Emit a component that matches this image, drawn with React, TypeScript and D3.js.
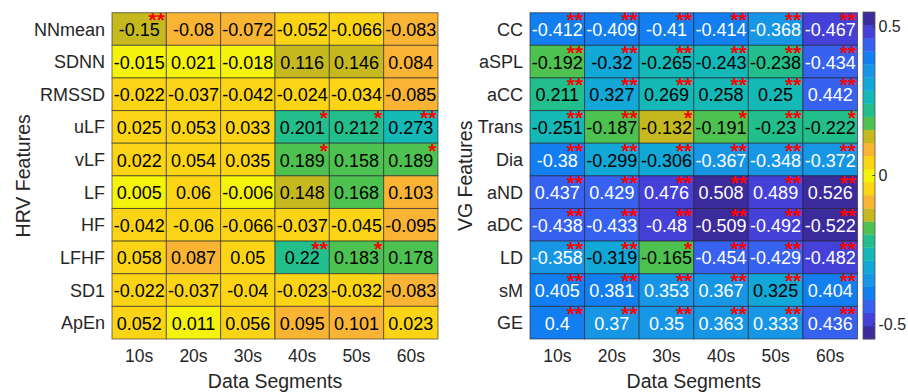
// two correlation heatmaps (HRV / VG features) with a shared colorbar
import React, { useRef, useEffect } from 'react';
import * as d3 from 'd3';

const segments = ['10s', '20s', '30s', '40s', '50s', '60s'];

const hrvFeatures = ['NNmean', 'SDNN', 'RMSSD', 'uLF', 'vLF', 'LF', 'HF', 'LFHF', 'SD1', 'ApEn'];
const hrvValues: number[][] = [
  [-0.15, -0.08, -0.072, -0.052, -0.066, -0.083],
  [-0.015, 0.021, -0.018, 0.116, 0.146, 0.084],
  [-0.022, -0.037, -0.042, -0.024, -0.034, -0.085],
  [0.025, 0.053, 0.033, 0.201, 0.212, 0.273],
  [0.022, 0.054, 0.035, 0.189, 0.158, 0.189],
  [0.005, 0.06, -0.006, 0.148, 0.168, 0.103],
  [-0.042, -0.06, -0.066, -0.037, -0.045, -0.095],
  [0.058, 0.087, 0.05, 0.22, 0.183, 0.178],
  [-0.022, -0.037, -0.04, -0.023, -0.032, -0.083],
  [0.052, 0.011, 0.056, 0.095, 0.101, 0.023],
];
const hrvStars: string[][] = [
  ['**', '', '', '', '', ''],
  ['', '', '', '', '', ''],
  ['', '', '', '', '', ''],
  ['', '', '', '*', '*', '**'],
  ['', '', '', '*', '', '*'],
  ['', '', '', '', '', ''],
  ['', '', '', '', '', ''],
  ['', '', '', '**', '*', ''],
  ['', '', '', '', '', ''],
  ['', '', '', '', '', ''],
];

const vgFeatures = ['CC', 'aSPL', 'aCC', 'Trans', 'Dia', 'aND', 'aDC', 'LD', 'sM', 'GE'];
const vgValues: number[][] = [
  [-0.412, -0.409, -0.41, -0.414, -0.368, -0.467],
  [-0.192, -0.32, -0.265, -0.243, -0.238, -0.434],
  [0.211, 0.327, 0.269, 0.258, 0.25, 0.442],
  [-0.251, -0.187, -0.132, -0.191, -0.23, -0.222],
  [-0.38, -0.299, -0.306, -0.367, -0.348, -0.372],
  [0.437, 0.429, 0.476, 0.508, 0.489, 0.526],
  [-0.438, -0.433, -0.48, -0.509, -0.492, -0.522],
  [-0.358, -0.319, -0.165, -0.454, -0.429, -0.482],
  [0.405, 0.381, 0.353, 0.367, 0.325, 0.404],
  [0.4, 0.37, 0.35, 0.363, 0.333, 0.436],
];
const vgStars: string[][] = [
  ['**', '**', '**', '**', '**', '**'],
  ['**', '**', '**', '**', '**', '**'],
  ['**', '**', '**', '**', '**', '**'],
  ['**', '**', '*', '*', '**', '*'],
  ['**', '**', '**', '**', '**', '**'],
  ['**', '**', '**', '**', '**', '**'],
  ['**', '**', '**', '**', '**', '**'],
  ['**', '**', '*', '**', '**', '**'],
  ['**', '**', '**', '**', '**', '**'],
  ['**', '**', '**', '**', '**', '**'],
];

// colour steps from the centre (0) outwards, mirrored for +/- values
const halfColors = [
  '#f5f20c', '#fbd515', '#f9b434', '#c6b920', '#4dc250', '#22bf8c', '#14b8b6',
  '#11a8d8', '#1896e6', '#127ef0', '#3762f0', '#4541d8', '#3c2b9c',
];
const colorTicks = [-0.5, 0, 0.5];
const cLim = 0.55;

const width = 908;
const height = 392;
const top = 12.7;
const bottom = 339;
const font = '"Liberation Sans", Arial, Helvetica, sans-serif';

const App: React.FC = () => {
  const svgRef = useRef<SVGSVGElement>(null);

  useEffect(() => {
    if (!svgRef.current) return;
    const svg = d3.select(svgRef.current);
    svg.selectAll('*').remove();

    const n = halfColors.length - 1;
    const steps = d3.range(2 * n + 1).map((i) => halfColors[Math.abs(i - n)]);
    const color = d3.scaleQuantize<string>().domain([-cLim, cLim]).range(steps);
    const stepIndex = (v: number) => steps.indexOf(color(v));

    const drawMap = (
      left: number,
      right: number,
      rows: string[],
      values: number[][],
      stars: string[][],
      title: string,
      titleX: number,
    ) => {
      const x = d3.scaleBand().domain(segments).range([left, right]);
      const y = d3.scaleBand().domain(rows).range([top, bottom]);
      const g = svg.append('g');

      const cells = rows.flatMap((r, i) =>
        segments.map((s, j) => ({ r, s, v: values[i][j], star: stars[i][j] })),
      );

      g.selectAll('rect.cell')
        .data(cells)
        .join('rect')
        .attr('class', 'cell')
        .attr('x', (d) => x(d.s)!)
        .attr('y', (d) => y(d.r)!)
        .attr('width', x.bandwidth())
        .attr('height', y.bandwidth())
        .attr('fill', (d) => color(d.v))
        .attr('stroke', 'rgba(30,30,40,0.6)')
        .attr('stroke-width', 1);

      g.selectAll('text.val')
        .data(cells)
        .join('text')
        .attr('class', 'val')
        .attr('x', (d) => x(d.s)! + x.bandwidth() / 2)
        .attr('y', (d) => y(d.r)! + y.bandwidth() / 2 + 7)
        .attr('text-anchor', 'middle')
        .attr('font-family', font)
        .attr('font-size', 18)
        .attr('fill', (d) => (Math.abs(stepIndex(d.v) - n) >= 8 ? '#fff' : '#000'))
        .text((d) => String(d.v));

      g.selectAll('text.star')
        .data(cells.filter((d) => d.star))
        .join('text')
        .attr('class', 'star')
        .attr('x', (d) => x(d.s)! + x.bandwidth() - 1.5)
        .attr('y', (d) => y(d.r)! + 14.5)
        .attr('text-anchor', 'end')
        .attr('font-family', font)
        .attr('font-size', 21)
        .attr('font-weight', 'bold')
        .attr('fill', '#ff0000')
        .text((d) => d.star);

      // row labels
      g.selectAll('text.row')
        .data(rows)
        .join('text')
        .attr('class', 'row')
        .attr('x', left - 7)
        .attr('y', (d) => y(d)! + y.bandwidth() / 2 + 6.5)
        .attr('text-anchor', 'end')
        .attr('font-family', font)
        .attr('font-size', 18)
        .attr('fill', '#262626')
        .text((d) => d);

      // column labels
      g.selectAll('text.col')
        .data(segments)
        .join('text')
        .attr('class', 'col')
        .attr('x', (d) => x(d)! + x.bandwidth() / 2)
        .attr('y', 362)
        .attr('text-anchor', 'middle')
        .attr('font-family', font)
        .attr('font-size', 17.5)
        .attr('fill', '#262626')
        .text((d) => d);

      g.append('text')
        .attr('x', (left + right) / 2)
        .attr('y', 388)
        .attr('text-anchor', 'middle')
        .attr('font-family', font)
        .attr('font-size', 19.5)
        .attr('fill', '#262626')
        .text('Data Segments');

      g.append('text')
        .attr('transform', `translate(${titleX},${(top + bottom) / 2}) rotate(-90)`)
        .attr('text-anchor', 'middle')
        .attr('font-family', font)
        .attr('font-size', 19.5)
        .attr('fill', '#262626')
        .text(title);
    };

    drawMap(112, 438, hrvFeatures, hrvValues, hrvStars, 'HRV Features', 30);
    drawMap(530, 857.5, vgFeatures, vgValues, vgStars, 'VG Features', 472);

    // colorbar
    const cbX = 863;
    const cbW = 12;
    const cy = d3.scaleLinear().domain([-cLim, cLim]).range([339, 12]);
    const stepSize = (2 * cLim) / steps.length;
    const cb = svg.append('g');
    cb.selectAll('rect')
      .data(steps)
      .join('rect')
      .attr('x', cbX)
      .attr('y', (_, i) => cy(-cLim + (i + 1) * stepSize))
      .attr('width', cbW)
      .attr('height', (_, i) => cy(-cLim + i * stepSize) - cy(-cLim + (i + 1) * stepSize) + 0.3)
      .attr('fill', (d) => d);
    cb.append('rect')
      .attr('x', cbX)
      .attr('y', 12)
      .attr('width', cbW)
      .attr('height', 327)
      .attr('fill', 'none')
      .attr('stroke', '#555')
      .attr('stroke-width', 0.8);

    const axis = cb.append('g')
      .attr('transform', `translate(${cbX + cbW},0)`)
      .call(d3.axisRight(cy).tickValues(colorTicks).tickSize(0).tickPadding(3.5).tickFormat((d) => String(d)));
    axis.select('.domain').remove();
    axis.selectAll('text')
      .attr('font-family', font)
      .attr('font-size', 16)
      .attr('fill', '#262626');
    cb.selectAll('line.tk')
      .data(colorTicks)
      .join('line')
      .attr('class', 'tk')
      .attr('x1', cbX + cbW - 2.5)
      .attr('x2', cbX + cbW)
      .attr('y1', (d) => cy(d))
      .attr('y2', (d) => cy(d))
      .attr('stroke', '#333');
  }, []);

  return (
    <svg
      ref={svgRef}
      width={width}
      height={height}
      style={{ position: 'absolute', left: 0, top: 0, background: '#fff' }}
    />
  );
};

export default App;
